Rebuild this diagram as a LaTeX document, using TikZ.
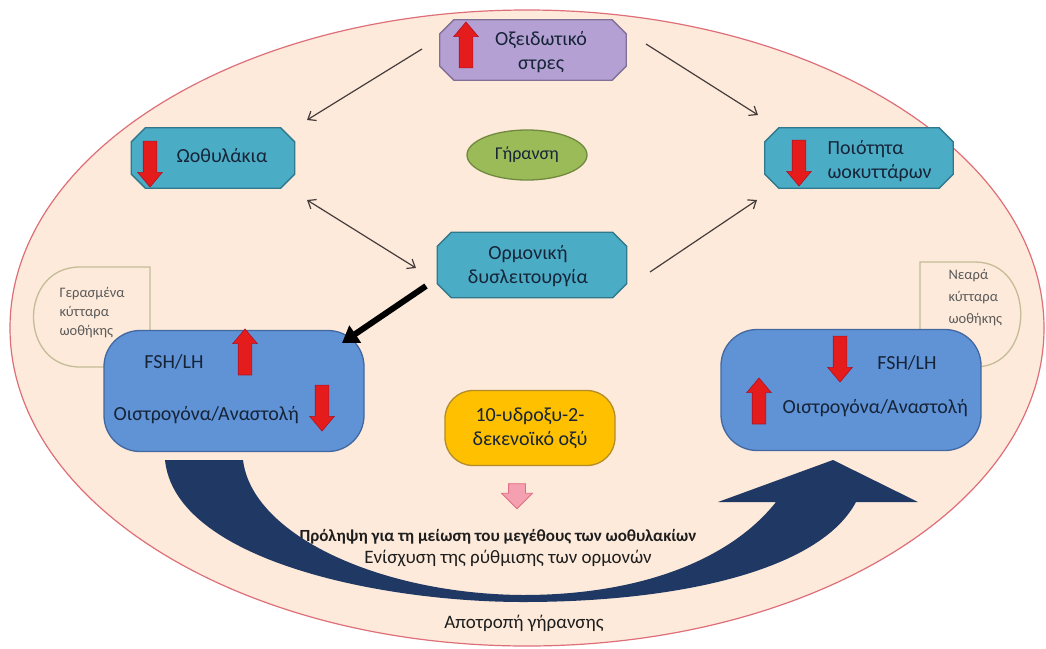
\documentclass[tikz,border=0pt]{standalone}
\usepackage{fontspec}
\setmainfont{Carlito}
\usepackage{tikz}
\usetikzlibrary{positioning}
\usetikzlibrary{shapes.geometric, shapes.arrows, arrows.meta}

\definecolor{bgfill}{RGB}{253,234,218}
\definecolor{bgline}{RGB}{222,110,120}
\definecolor{oxfill}{RGB}{181,160,212}
\definecolor{oxline}{RGB}{128,112,150}
\definecolor{tealfill}{RGB}{75,172,198}
\definecolor{tealline}{RGB}{49,120,140}
\definecolor{greenfill}{RGB}{155,187,89}
\definecolor{greenline}{RGB}{113,137,63}
\definecolor{bluefill}{RGB}{96,146,214}
\definecolor{blueline}{RGB}{66,104,160}
\definecolor{goldfill}{RGB}{255,192,0}
\definecolor{goldline}{RGB}{180,140,40}
\definecolor{redfill}{RGB}{228,28,28}
\definecolor{redline}{RGB}{170,20,40}
\definecolor{olive}{RGB}{196,189,151}
\definecolor{pinkfill}{RGB}{244,160,176}
\definecolor{pinkline}{RGB}{222,110,130}
\definecolor{navy}{RGB}{31,56,100}
\definecolor{txtdark}{RGB}{22,36,56}
\definecolor{txtgrey}{RGB}{90,90,90}
\definecolor{txtblack}{RGB}{30,30,30}
\definecolor{linegrey}{RGB}{70,60,60}

% octagon outline round a named node
\newcommand{\octpath}[1]{([xshift=14pt]#1.north west) -- ([xshift=-14pt]#1.north east) -- ([yshift=-14pt]#1.north east) -- ([yshift=14pt]#1.south east) -- ([xshift=-14pt]#1.south east) -- ([xshift=14pt]#1.south west) -- ([yshift=14pt]#1.south west) -- ([yshift=-14pt]#1.north west) -- cycle}

\tikzstyle{octspot} = [rectangle, inner sep=0pt, minimum height=60pt]
\tikzstyle{octline} = [line width=1.3pt]
\tikzstyle{hormbox} = [rectangle, rounded corners=36pt, draw=blueline, fill=bluefill, line width=1.3pt, minimum width=260pt, minimum height=121pt]
\tikzstyle{boxtext} = [text=txtdark, font=\fontsize{20}{24}\selectfont]
\tikzstyle{celltext} = [anchor=west, align=left, text=txtgrey]
\tikzstyle{redarrow} = [single arrow, fill=redfill, draw=redline, line width=0.6pt, inner xsep=0pt, inner ysep=6.5pt, single arrow head extend=5.5pt, single arrow tip angle=80, minimum height=46pt]
\tikzstyle{thinarrow} = [line width=1.2pt, draw=linegrey, ->, >={Straight Barb[length=7pt,width=11pt]}]

\begin{document}
\begin{tikzpicture}[x=1pt,y=-1pt]
\useasboundingbox (0,0) rectangle (1046,648);

%Background
\draw[bgline, fill=bgfill, line width=1.2pt] (527,328) ellipse [x radius=517, y radius=318];

%Ovary cells
\draw[olive, line width=1.3pt] (150,367) -- (150,267) -- (80,267) .. controls (18,267) and (18,367) .. (80,367) -- cycle;
\draw[olive, line width=1.3pt] (920,367) -- (920,262) -- (975,262) .. controls (1036,262) and (1036,367) .. (975,367) -- cycle;
\node[celltext, font=\fontsize{14.5}{19}\selectfont] (oldcells) at (56,313) {Γερασμένα\\κύτταρα\\ωοθήκης};
\node[celltext, font=\fontsize{14.5}{22}\selectfont] (youngcells) at (945,298) {Νεαρά\\κύτταρα\\ωοθήκης};

%Nodes
\node[octspot, minimum width=186pt] (stress) at (533,50) {};
\draw[octline, draw=oxline, fill=oxfill] \octpath{stress};
\node[boxtext, align=center] (stresstxt) at (541,52) {Οξειδωτικό\\στρες};
\node[redarrow, rotate=90] (stressup) at (466,49) {};

\node[octspot, minimum width=163pt] (follicles) at (213,158) {};
\draw[octline, draw=tealline, fill=tealfill] \octpath{follicles};
\node[boxtext] (folltxt) at (222,156) {Ωοθυλάκια};
\node[redarrow, rotate=-90] (folldown) at (150,160) {};

\node[ellipse, draw=greenline, fill=greenfill, line width=1.3pt, minimum width=120pt, minimum height=50pt, boxtext, font=\fontsize{18}{22}\selectfont] (ageing) at (527,155) {Γήρανση};

\node[octspot, minimum width=188pt] (quality) at (859,158) {};
\draw[octline, draw=tealline, fill=tealfill] \octpath{quality};
\node[boxtext, anchor=west, align=left] (qualtxt) at (824,161) {Ποιότητα\\ωοκυττάρων};
\node[redarrow, rotate=-90] (qualdown) at (799,159) {};

\node[octspot, minimum width=189pt, minimum height=65pt] (dysfunction) at (532,265) {};
\draw[octline, draw=tealline, fill=tealfill] \octpath{dysfunction};
\node[boxtext, align=center] (dystxt) at (528,266) {Ορμονική\\δυσλειτουργία};

\node[hormbox] (oldhorm) at (234,391) {};
\node[boxtext] (oldfsh) at (174,362) {FSH/LH};
\node[redarrow, rotate=90] (oldfshup) at (245,356) {};
\node[boxtext, anchor=west] (oldestr) at (110,415) {Οιστρογόνα/Αναστολή};
\node[redarrow, rotate=-90] (oldestrdown) at (322,404) {};

\node[hormbox] (younghorm) at (851,390) {};
\node[redarrow, rotate=-90] (youngfshdown) at (840,355) {};
\node[boxtext] (youngfsh) at (907,363) {FSH/LH};
\node[redarrow, rotate=90] (youngestrup) at (759,405) {};
\node[boxtext, anchor=west] (youngestr) at (779,408) {Οιστρογόνα/Αναστολή};

\node[rectangle, rounded corners=28pt, draw=goldline, fill=goldfill, line width=1.3pt, minimum width=170pt, minimum height=75pt, boxtext, align=center] (acid) at (530,428) {10-υδροξυ-2-\\δεκενοϊκό οξύ};
\node[single arrow, rotate=-90, fill=pinkfill, draw=pinkline, line width=0.8pt, inner xsep=0pt, inner ysep=8pt, single arrow head extend=7pt, minimum height=25pt] (acidarrow) at (517,492) {};

\node[font=\bfseries\fontsize{17}{20}\selectfont, text=txtblack] (prevent) at (498,537) {Πρόληψη για τη μείωση του μεγέθους των ωοθυλακίων};
\node[font=\fontsize{19}{22}\selectfont, text=txtblack] (enhance) at (508,558) {Ενίσχυση της ρύθμισης των ορμονών};
\node[font=\fontsize{19}{22}\selectfont, text=txtblack] (avert) at (524,623) {Αποτροπή γήρανσης};

%Coordinates
\coordinate (s1) at (422,49);
\coordinate (e1) at (307,120);
\coordinate (s2) at (646,44);
\coordinate (e2) at (758,115);
\coordinate (s3) at (307,200);
\coordinate (e3) at (416,268);
\coordinate (s4) at (650,272);
\coordinate (e4) at (757,200);
\coordinate (s5) at (426,286);
\coordinate (e5) at (342,343);

%Lines
\draw[thinarrow] (s1) -- (e1);
\draw[thinarrow] (s2) -- (e2);
\draw[thinarrow, <->] (s3) -- (e3);
\draw[thinarrow] (s4) -- (e4);
\draw[line width=6pt, -{Triangle[length=16pt,width=20pt]}] (s5) -- (e5);

%Curved arrow
\fill[navy] (165,460) .. controls (175,560) and (380,602) .. (523,602)
  .. controls (680,602) and (820,570) .. (856,502) -- (918,502) -- (833,460) -- (718,502) -- (776,502)
  .. controls (730,560) and (640,595) .. (523,595)
  .. controls (380,594) and (252,535) .. (243,460) -- cycle;
\end{tikzpicture}
\end{document}
